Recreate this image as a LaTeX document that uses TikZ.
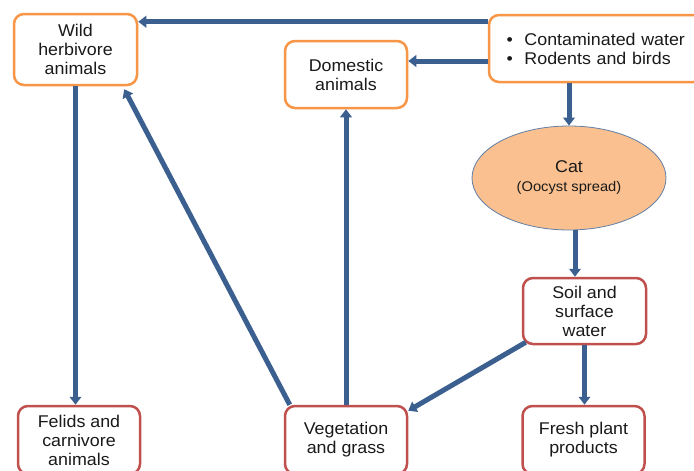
\documentclass[tikz,border=0pt]{standalone}
\usepackage{fontspec}
\setmainfont{Liberation Sans}[FakeStretch=1.05]
\usetikzlibrary{arrows.meta,shapes.geometric}
\definecolor{orb}{HTML}{F79646}
\definecolor{rdb}{HTML}{C0504D}
\definecolor{arc}{HTML}{3B5F8F}
\definecolor{catf}{HTML}{FAC090}
\definecolor{txt}{HTML}{1A1A1A}
\begin{document}
\begin{tikzpicture}[x=1pt,y=-1pt,
  box/.style={draw, line width=2.5pt, rounded corners=10pt, fill=white, align=center, text=txt,
    font=\fontsize{17}{19}\selectfont, inner sep=0pt},
  obox/.style={box, draw=orb},
  rbox/.style={box, draw=rdb},
  arr/.style={draw=arc, line width=5pt, -{Triangle[length=8pt,width=11.5pt]}}]
\fill[white] (0,0) rectangle (694,471);
\useasboundingbox (0,0) rectangle (694,471);

\node[obox, minimum width=123pt, minimum height=71pt] (wild) at (75.5,49.5) {Wild\\herbivore\\animals};
\node[obox, minimum width=122pt, minimum height=67pt] (dom) at (346,74.5) {Domestic\\animals};
\node[obox, minimum width=215pt, minimum height=67pt, text width=180pt, inner xsep=17pt, align=left] (cont) at (596.5,48.5)
  {\makebox[18pt][l]{•}Contaminated water\\\makebox[18pt][l]{•}Rodents and birds};
\node[ellipse, draw=arc!80, line width=0.8pt, fill=catf, minimum width=194pt, minimum height=104pt,
  inner sep=0pt, align=center, text=txt, font=\fontsize{17}{19}\selectfont] (cat) at (569,178)
  {Cat\\\fontsize{14}{16.5}\selectfont (Oocyst spread)};
\node[rbox, minimum width=123pt, minimum height=66pt] (soil) at (584.5,311) {Soil and\\surface\\water};
\node[rbox, minimum width=122pt, minimum height=68pt] (felids) at (79,440) {Felids and\\carnivore\\animals};
\node[rbox, minimum width=122pt, minimum height=68pt] (veg) at (346,440) {Vegetation\\and grass};
\node[rbox, minimum width=122pt, minimum height=68pt] (fresh) at (583.5,440) {Fresh plant\\products};

\draw[arr] ([yshift=-8pt]cont.north west) -- ([yshift=-8pt]cont.north west -| wild.east);
\draw[arr] ([yshift=-12.5pt]cont.west) -- ([yshift=-12.5pt]cont.west -| dom.east);
\draw[arr] (cat.north |- cont.south) -- (cat.north);
\draw[arr] ([xshift=6pt]cat.south) -- ([xshift=6pt]cat.south |- soil.north);
\draw[arr] (soil.south) -- (soil.south |- fresh.north);
\draw[arr] (wild.south) -- (wild.south |- felids.north);
\draw[arr] ([xshift=6pt]veg.north west) -- ([xshift=-14pt,yshift=-3pt]wild.south east);
\draw[arr] (veg.north) -- (veg.north |- dom.south);
\draw[arr] ([xshift=4pt,yshift=3pt]soil.south west) -- ([yshift=-6pt]veg.north east);
\end{tikzpicture}
\end{document}
